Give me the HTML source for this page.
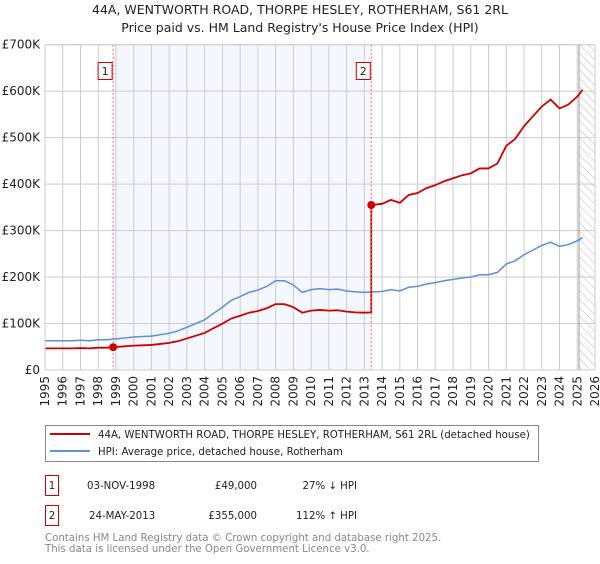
<!DOCTYPE html>
<html><head><meta charset="utf-8"><style>
body{margin:0;background:#fff;font-family:"DejaVu Sans","Liberation Sans",sans-serif;}
svg text{font-family:"DejaVu Sans","Liberation Sans",sans-serif;}
</style></head><body>
<svg id="chart" width="600" height="560" xmlns="http://www.w3.org/2000/svg">
<defs><pattern id="hatch" width="6" height="6" patternUnits="userSpaceOnUse" patternTransform="rotate(-45)"><line x1="0" y1="0" x2="0" y2="6" stroke="#bbb" stroke-width="1"/></pattern></defs>
<text x="300" y="14" text-anchor="middle" font-size="12.5" fill="#222">44A, WENTWORTH ROAD, THORPE HESLEY, ROTHERHAM, S61 2RL</text>
<text x="300" y="32" text-anchor="middle" font-size="12.5" fill="#222">Price paid vs. HM Land Registry's House Price Index (HPI)</text>
<g id="plot"></g>
<g>
<rect x="45.5" y="425.5" width="493" height="36" fill="#fff" stroke="#888"/>
<line x1="50" y1="434" x2="90" y2="434" stroke="#cc0000" stroke-width="2"/>
<text x="98" y="438" font-size="10.2" fill="#222">44A, WENTWORTH ROAD, THORPE HESLEY, ROTHERHAM, S61 2RL (detached house)</text>
<line x1="50" y1="451" x2="90" y2="451" stroke="#5b8fd6" stroke-width="2"/>
<text x="98" y="455" font-size="10.2" fill="#222">HPI: Average price, detached house, Rotherham</text>
</g>
<g font-size="10.2" fill="#222">
<rect x="45.5" y="475.5" width="13" height="20" fill="#fff" stroke="#cc0000"/>
<text x="52" y="489" text-anchor="middle">1</text>
<text x="87" y="489">03-NOV-1998</text>
<text x="257" y="489" text-anchor="end">£49,000</text>
<text x="357" y="489" text-anchor="end">27% ↓ HPI</text>
<rect x="45.5" y="505.5" width="13" height="20" fill="#fff" stroke="#cc0000"/>
<text x="52" y="519" text-anchor="middle">2</text>
<text x="89" y="519">24-MAY-2013</text>
<text x="257" y="519" text-anchor="end">£355,000</text>
<text x="357" y="519" text-anchor="end">112% ↑ HPI</text>
</g>
<text x="45" y="541" font-size="10.2" fill="#888">Contains HM Land Registry data © Crown copyright and database right 2025.</text>
<text x="45" y="552" font-size="10.2" fill="#888">This data is licensed under the Open Government Licence v3.0.</text>
</svg>
<script>
const hpiYears=[1995,1995.5,1996,1996.5,1997,1997.5,1998,1998.5,1999,1999.5,2000,2000.5,2001,2001.5,2002,2002.5,2003,2003.5,2004,2004.5,2005,2005.5,2006,2006.5,2007,2007.5,2008,2008.5,2009,2009.5,2010,2010.5,2011,2011.5,2012,2012.5,2013,2013.5,2014,2014.5,2015,2015.5,2016,2016.5,2017,2017.5,2018,2018.5,2019,2019.5,2020,2020.5,2021,2021.5,2022,2022.5,2023,2023.5,2024,2024.5,2025,2025.3];
const hpiValues=[63,63,63,63,64,63,65,65,67,69,71,72,73,76,79,84,92,100,108,122,135,150,158,167,172,180,192,192,183,167,173,175,173,174,170,168,167,168,169,173,170,178,180,185,188,192,195,198,200,205,205,210,228,235,248,258,268,275,266,270,278,285];
const saleYears=[1998.84,2013.39];
const salePrices=[49,355];
const yTicks=[0,100,200,300,400,500,600,700];
const yTickLabels=["£0","£100K","£200K","£300K","£400K","£500K","£600K","£700K"];
const xTicks=[1995,1996,1997,1998,1999,2000,2001,2002,2003,2004,2005,2006,2007,2008,2009,2010,2011,2012,2013,2014,2015,2016,2017,2018,2019,2020,2021,2022,2023,2024,2025,2026];
const dataEnd=2025.1;

const L=45,R=595,T=44.7,B=370,X0=1995,X1=2026,YMAX=700;
const X=v=>L+(v-X0)/(X1-X0)*(R-L);
const Y=v=>B-v/YMAX*(B-T);
const NS="http://www.w3.org/2000/svg";
const g=document.getElementById('plot');
function mk(tag,attrs,parent){const e=document.createElementNS(NS,tag);for(const k in attrs)e.setAttribute(k,attrs[k]);(parent||g).appendChild(e);return e;}
function hpiAt(t){for(let i=0;i<hpiYears.length-1;i++){if(t<=hpiYears[i+1]){const f=(t-hpiYears[i])/(hpiYears[i+1]-hpiYears[i]);return hpiValues[i]+f*(hpiValues[i+1]-hpiValues[i]);}}return hpiValues[hpiValues.length-1];}

const shade=mk('rect',{x:X(saleYears[0]),y:T,width:X(saleYears[1])-X(saleYears[0]),height:B-T,fill:'#f4f7fe'});


const hatch=mk('rect',{x:X(dataEnd),y:T,width:R-X(dataEnd),height:B-T,fill:'url(#hatch)'});


xTicks.forEach(t=>{const l=mk('line',{x1:X(t),x2:X(t),y1:T,y2:B,stroke:'#ccc','stroke-width':1});


const tx=mk('text',{x:0,y:0,'font-size':12,fill:'#222','text-anchor':'end',transform:`translate(${X(t)+4},${B+6}) rotate(-90)`});tx.textContent=t;

});
yTicks.forEach((t,i)=>{const l=mk('line',{x1:L,x2:R,y1:Y(t),y2:Y(t),stroke:'#ccc','stroke-width':1});


const tx=mk('text',{x:L-5,y:Y(t)+4,'font-size':12,fill:'#222','text-anchor':'end'});tx.textContent=yTickLabels[i];

});
const endLine=mk('line',{x1:X(dataEnd),x2:X(dataEnd),y1:T,y2:B,stroke:'#999','stroke-width':1});



const hp=mk('polyline',{points:hpiYears.map((y,i)=>X(y)+','+Y(hpiValues[i])).join(' '),fill:'none',stroke:'#5b8fd6','stroke-width':1.5});



const pts=[];
const r0=salePrices[0]/hpiAt(saleYears[0]),r1=salePrices[1]/hpiAt(saleYears[1]);
hpiYears.forEach((y,i)=>{if(y<saleYears[1])pts.push([y,hpiValues[i]*r0]);});
pts.push([saleYears[1],hpiAt(saleYears[1])*r0]);
pts.push([saleYears[1],salePrices[1]]);
hpiYears.forEach((y,i)=>{if(y>saleYears[1])pts.push([y,hpiValues[i]*r1]);});
const pl=mk('polyline',{points:pts.map(p=>X(p[0])+','+Y(p[1])).join(' '),fill:'none',stroke:'#cc0000','stroke-width':1.8});



saleYears.forEach((s,i)=>{
const v=mk('line',{x1:X(s),x2:X(s),y1:T,y2:B,stroke:'#e66','stroke-width':1,'stroke-dasharray':'2,2'});


const d=mk('circle',{cx:X(s),cy:Y(salePrices[i]),r:4,fill:'#cc0000'});


const b=mk('rect',{x:X(s)-15,y:62.5,width:14,height:17,fill:'#fff',stroke:'#cc0000'});


const t=mk('text',{x:X(s)-8,y:75,'font-size':11,fill:'#222','text-anchor':'middle'});t.textContent=String(i+1);


});
mk('rect',{x:L,y:T,width:R-L,height:B-T,fill:'none',stroke:'#ccc'});
</script>
</body></html>
